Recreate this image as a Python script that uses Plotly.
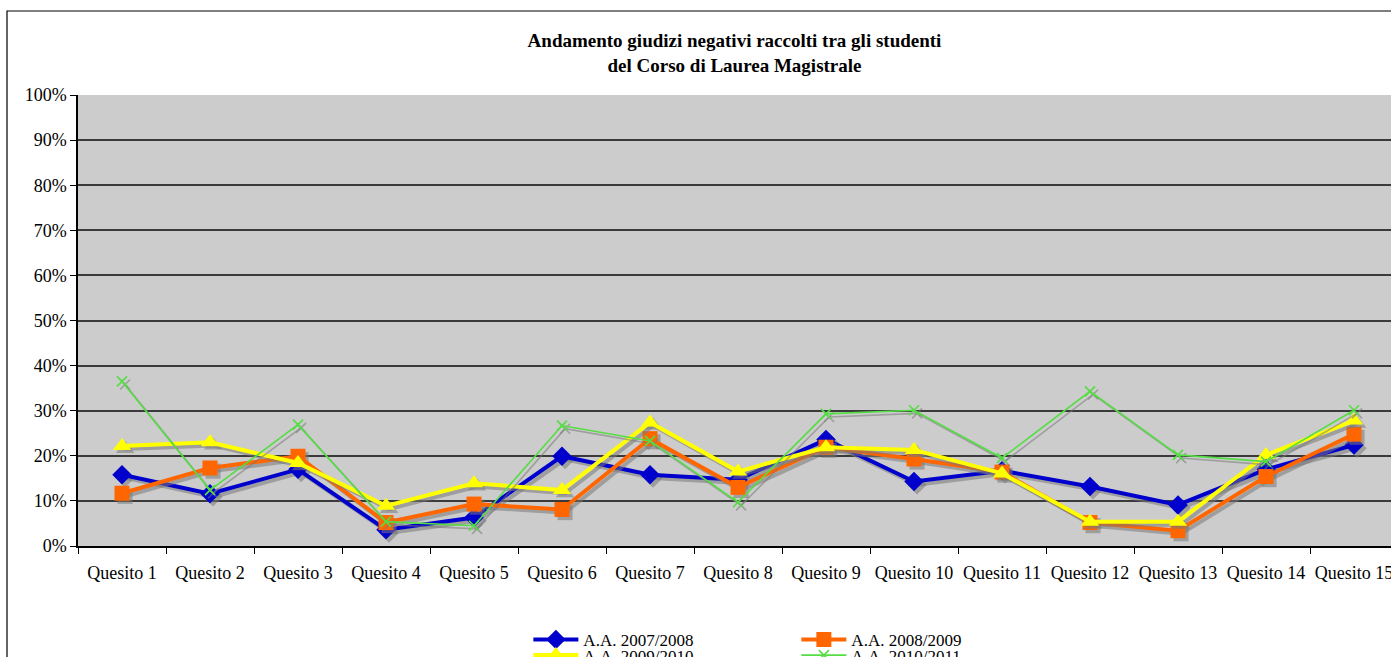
import plotly.graph_objects as go

categories = [f"Quesito {i}" for i in range(1, 16)]

aa_2007_2008 = [15.8, 11.6, 17.0, 3.6, 6.3, 19.9, 15.8, 14.7, 23.6, 14.3, 16.7, 13.2, 9.1, 17.0, 22.4]
aa_2008_2009 = [11.7, 17.3, 19.9, 5.2, 9.3, 8.1, 23.8, 13.0, 21.9, 19.3, 16.4, 5.2, 3.4, 15.4, 24.8]
aa_2009_2010 = [22.2, 23.0, 18.4, 8.9, 13.9, 12.4, 27.4, 16.5, 21.9, 21.3, 16.1, 5.4, 5.4, 20.2, 27.8]
aa_2010_2011 = [36.5, 12.4, 26.9, 5.4, 4.5, 26.7, 23.3, 9.7, 29.3, 30.1, 19.5, 34.3, 20.2, 18.7, 30.1]

series = [
    ("A.A. 2007/2008", aa_2007_2008, "#0000CC", "diamond", 15, 4, "legend"),
    ("A.A. 2008/2009", aa_2008_2009, "#FF6600", "square", 15, 4, "legend"),
    ("A.A. 2009/2010", aa_2009_2010, "#FFFF00", "triangle-up", 16, 4, "legend2"),
    ("A.A. 2010/2011", aa_2010_2011, "#55DD44", "x-thin", 10, 1.6, "legend2"),
]

FONT = "Liberation Serif"
x_pos = list(range(len(categories)))

fig = go.Figure()
for name, vals, color, symbol, msize, lw, leg in series:
    # soft drop shadow beneath each series
    fig.add_trace(go.Scatter(
        x=[x + 0.035 for x in x_pos], y=[v - 0.7 for v in vals],
        mode="lines+markers", showlegend=False, hoverinfo="skip",
        line=dict(color="rgba(120,120,120,0.55)", width=lw),
        marker=dict(symbol=symbol, size=msize, color="rgba(120,120,120,0.55)",
                    line=dict(width=1.6 if symbol == "x-thin" else 0,
                              color="rgba(120,120,120,0.55)")),
    ))
    fig.add_trace(go.Scatter(
        x=x_pos, y=vals, name=name, mode="lines+markers", legend=leg,
        line=dict(color=color, width=lw),
        marker=dict(symbol=symbol, size=msize, color=color,
                    line=dict(width=1.6 if symbol == "x-thin" else 0, color=color)),
    ))

fig.update_layout(
    width=1391, height=657,
    margin=dict(l=78, r=0, t=95, b=111, autoexpand=False),
    paper_bgcolor="white",
    plot_bgcolor="#CCCCCC",
    font=dict(family=FONT, size=17, color="black"),
    title=dict(
        text="<b>Andamento giudizi negativi raccolti tra gli studenti<br>del Corso di Laurea Magistrale</b>",
        x=0.5, xref="paper", xanchor="center", y=1 - 47 / 657, yanchor="top",
        font=dict(family=FONT, size=19, color="black"),
    ),
    xaxis=dict(
        range=[-0.5, -0.5 + 1313 / 88], automargin=False,
        tickvals=x_pos, ticktext=categories, ticks="", ticklen=0,
        ticklabeloverflow="allow",
        showgrid=False, zeroline=False,
        showline=True, linecolor="black", linewidth=1.5,
        minor=dict(tick0=-0.5, dtick=1, ticks="outside", ticklen=6,
                   tickcolor="black", showgrid=False),
        tickfont=dict(family=FONT, size=18),
        ticklabelstandoff=10,
    ),
    yaxis=dict(
        range=[0, 100], automargin=False, tickvals=list(range(0, 101, 10)),
        ticktext=[f"{v}%" for v in range(0, 101, 10)],
        ticks="outside", ticklen=6, tickcolor="black",
        showgrid=True, gridcolor="#3A3A3A", gridwidth=1.8,
        zeroline=False, showline=True, linecolor="black", linewidth=1.5,
        tickfont=dict(family=FONT, size=18),
    ),
    legend=dict(orientation="h", x=0.343, y=-0.1685, xanchor="left", yanchor="top",
                entrywidth=208, entrywidthmode="pixels", bgcolor="rgba(0,0,0,0)",
                font=dict(family=FONT, size=17), itemwidth=45, tracegroupgap=0),
    legend2=dict(orientation="h", x=0.343, y=-0.203, xanchor="left", yanchor="top",
                 entrywidth=208, entrywidthmode="pixels", bgcolor="rgba(0,0,0,0)",
                 font=dict(family=FONT, size=17), itemwidth=45, tracegroupgap=0),
    shapes=[dict(type="rect", xref="paper", yref="paper",
                 x0=(7 - 78) / 1313, x1=1.2, y0=-0.6, y1=(546 - 11) / 451,
                 line=dict(color="black", width=1.2), fillcolor="rgba(0,0,0,0)",
                 layer="below")],
)

fig.write_html("out.html")
